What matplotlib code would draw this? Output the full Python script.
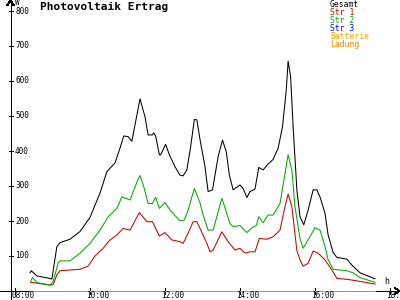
import matplotlib.pyplot as plt

# Werte, Zeit in Minuten ab 08:00, Leistung in W
t_gesamt = [24, 26, 35, 53, 59, 67, 72, 88, 104, 120, 136, 147, 160, 168, 174, 181, 187,
            200, 208, 213, 220, 222, 225, 231, 233, 241, 247, 256, 264, 269, 275, 281, 287,
            291, 296, 304, 309, 316, 325, 332, 338, 343, 349, 360, 365, 371, 376, 384, 390,
            397, 405, 413, 421, 428, 434, 437, 441, 445, 451, 456, 462, 469, 477, 483, 488,
            496, 501, 509, 515, 531, 539, 552, 576]
gesamt = [52, 58, 43, 37, 34, 127, 138, 148, 170, 210, 280, 341, 366, 408, 443, 441, 428,
          549, 498, 446, 446, 452, 443, 389, 389, 419, 389, 355, 331, 329, 346, 412, 490,
          489, 433, 355, 284, 289, 384, 431, 398, 331, 289, 303, 293, 267, 284, 291, 353,
          346, 363, 376, 408, 469, 574, 657, 612, 469, 289, 212, 189, 231, 289, 289, 269,
          222, 160, 110, 96, 91, 74, 52, 35]

t_str2 = [25, 28, 35, 56, 61, 69, 72, 88, 104, 120, 136, 149, 163, 171, 184, 197, 200,
          206, 213, 220, 225, 231, 240, 248, 264, 271, 277, 287, 296, 301, 309, 317, 331,
          344, 349, 360, 371, 379, 386, 390, 397, 405, 413, 424, 432, 437, 443, 448, 456,
          461, 469, 480, 488, 496, 501, 509, 531, 541, 552, 576]
str2 = [27, 39, 24, 17, 27, 80, 86, 86, 108, 136, 174, 212, 236, 269, 260, 320, 330,
        298, 250, 250, 268, 236, 253, 231, 200, 203, 231, 293, 252, 217, 174, 174, 265,
        193, 184, 187, 167, 181, 187, 212, 195, 217, 217, 250, 336, 389, 346, 241, 150,
        122, 146, 181, 174, 127, 89, 62, 58, 52, 38, 25]

t_str1 = [25, 56, 61, 67, 72, 104, 117, 128, 141, 152, 163, 173, 184, 199, 211, 220,
          231, 240, 251, 264, 269, 277, 285, 291, 296, 307, 312, 317, 331, 341, 352, 360,
          368, 376, 384, 391, 403, 413, 424, 432, 437, 443, 451, 456, 461, 469, 477, 485,
          496, 507, 515, 533, 547, 576]
str1 = [25, 17, 18, 46, 58, 62, 71, 100, 122, 146, 160, 179, 174, 224, 198, 198,
        157, 167, 146, 141, 136, 165, 198, 198, 179, 136, 112, 117, 169, 141, 117, 122,
        108, 112, 112, 150, 148, 155, 174, 241, 277, 241, 115, 89, 71, 79, 114, 108,
        89, 60, 36, 33, 29, 20]

t_speicher = [24, 576]
batterie = [0, 0]
ladung = [0, 0]

legend_names = ['Gesamt', 'Str 1', 'Str 2', 'Str 3', 'Batterie', 'Ladung']
legend_colors = ['black', '#cc0000', '#00aa00', '#0000ff', '#ffa500', '#ff8000']

y_ticks = [100, 200, 300, 400, 500, 600, 700, 800]
x_ticks = [8, 10, 12, 14, 16, 18]

# Pixelraster des Originals
W, H = 400, 300
X0, PX_H = 15, 37.5     # 08:00 bei x=15, 37.5 px pro Stunde
Y0, PX_W = 291, 0.35    # 0 W bei y=291, 35 px pro 100 W
LW = 0.72               # 1 px
LW_CURVE = 0.75


def hx(px):
    return 8 + (px - X0) / PX_H


def wy(py):
    return (Y0 - py) / PX_W


def hours(mins):
    return [8 + m / 60 for m in mins]


mono = 'DejaVu Sans Mono'

fig = plt.figure(figsize=(4, 3), dpi=100)
ax = fig.add_axes([0, 0, 1, 1])
ax.set_xlim(hx(0), hx(W))
ax.set_ylim(wy(H), wy(0))
ax.axis('off')

# Achsen
ax.plot([hx(10.5), hx(10.5)], [wy(H), wy(0)], color='black', lw=LW, antialiased=False)
ax.plot([hx(7.5), hx(10.5), hx(13.5)], [wy(5), wy(0.5), wy(5)], color='black', lw=LW, antialiased=False)
ax.plot([hx(0), hx(W)], [0, 0], color='black', lw=LW, antialiased=False)
ax.plot([hx(W - 5), hx(W - 0.5), hx(W - 5)], [wy(Y0 - 3), 0, wy(Y0 + 3)], color='black', lw=LW, antialiased=False)

for v in y_ticks:
    ax.plot([hx(8.5), hx(12.5)], [v, v], color='black', lw=LW, antialiased=False)
    ax.text(hx(15), v, str(v), fontsize=5.6, family=mono, va='center', ha='left')

for h in x_ticks:
    ax.plot([h, h], [wy(Y0 - 3), wy(Y0 + 3)], color='black', lw=LW, antialiased=False)
    ax.text(hx(X0 + PX_H * (h - 8) - 4), wy(296), '%02d:00' % h, fontsize=5.6, family=mono,
            va='center', ha='left')

ax.text(hx(15), wy(3), 'W', fontsize=5.6, family=mono, va='center', ha='left')
ax.text(hx(384), wy(282), 'h', fontsize=6, family=mono, va='center', ha='left')

ax.text(hx(40), wy(7), 'Photovoltaik Ertrag', fontsize=8, family=mono, weight='bold',
        va='center', ha='left')

# Kurven
ax.plot(hours(t_speicher), batterie, color=legend_colors[4], lw=LW, antialiased=False)
ax.plot(hours(t_speicher), ladung, color=legend_colors[5], lw=LW, antialiased=False)
ax.plot(hours(t_str1), str1, color=legend_colors[1], lw=LW_CURVE, antialiased=True)
ax.plot(hours(t_str2), str2, color=legend_colors[2], lw=LW_CURVE, antialiased=True)
ax.plot(hours(t_gesamt), gesamt, color=legend_colors[0], lw=LW_CURVE, antialiased=True)

# Legende
for i, (name, col) in enumerate(zip(legend_names, legend_colors)):
    ax.text(hx(330), wy(4.5 + 8 * i), name, fontsize=5.8, family=mono, color=col,
            va='center', ha='left')

fig.savefig('out.png', dpi=100)
